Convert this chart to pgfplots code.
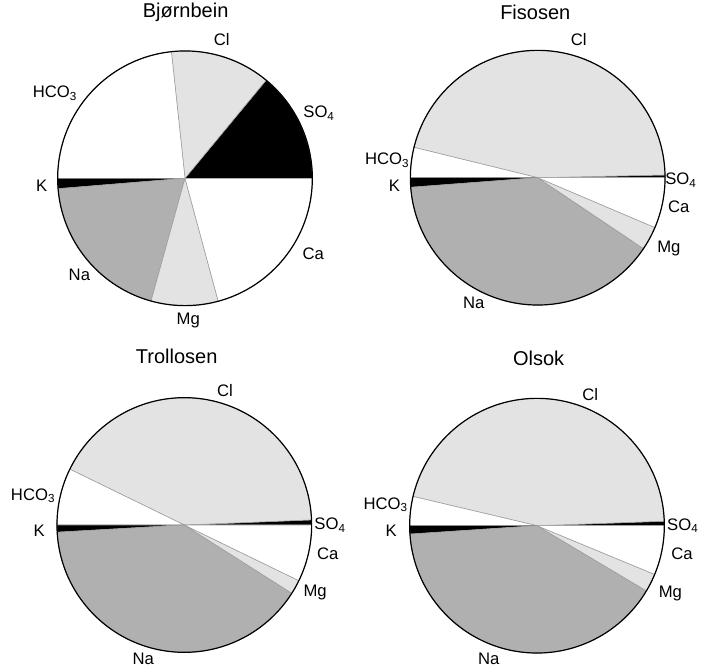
\documentclass[border=0pt]{standalone}
\usepackage{pgfplots}
\pgfplotsset{compat=1.18}
\usepackage{pgfplotstable}
\usepackage{fontspec}
\setmainfont{Liberation Sans}

\definecolor{pielight}{HTML}{E3E3E3}
\definecolor{piemid}{HTML}{B0B0B0}
\definecolor{edgegray}{HTML}{9A9A9A}

\newcommand{\lblfont}{\fontsize{12.5}{14}\selectfont}
\newcommand{\titlefont}{\fontsize{15}{18}\selectfont}
\def\pieR{95.5pt}

\expandafter\def\csname ioncol@SO4\endcsname{black}
\expandafter\def\csname ioncol@Cl\endcsname{pielight}
\expandafter\def\csname ioncol@HCO3\endcsname{white}
\expandafter\def\csname ioncol@K\endcsname{black}
\expandafter\def\csname ioncol@Na\endcsname{piemid}
\expandafter\def\csname ioncol@Mg\endcsname{pielight}
\expandafter\def\csname ioncol@Ca\endcsname{white}

\expandafter\def\csname ionlbl@SO4\endcsname{SO\textsubscript{4}}
\expandafter\def\csname ionlbl@Cl\endcsname{Cl}
\expandafter\def\csname ionlbl@HCO3\endcsname{HCO\textsubscript{3}}
\expandafter\def\csname ionlbl@K\endcsname{K}
\expandafter\def\csname ionlbl@Na\endcsname{Na}
\expandafter\def\csname ionlbl@Mg\endcsname{Mg}
\expandafter\def\csname ionlbl@Ca\endcsname{Ca}

% share of total meq (%), label angle (deg), label distance (radii)
\pgfplotstableread{
ion  val   la    ld
SO4  14.0  25.9  1.17
Cl   12.7  75.1  1.124
HCO3 23.3  146.9 1.22
K    1.3   183.0 1.127
Na   19.4  222.5 1.125
Mg   8.5   271.3 1.12
Ca   20.8  329.5 1.17
}\tblBjornbein

\pgfplotstableread{
ion  val   la    ld
SO4  0.34  359.0 1.125
Cl   45.83 73.4  1.13
HCO3 3.83  173.3 1.19
K    1.2   183.2 1.128
Na   39.4  243.0 1.107
Mg   3.0   331.7 1.17
Ca   6.4   348.4 1.13
}\tblFisosen

\pgfplotstableread{
ion  val   la    ld
SO4  0.64  0.0   1.145
Cl   42.14 73.1  1.10
HCO3 7.22  169.0 1.21
K    0.9   182.2 1.14
Na   40.1  253.0 1.10
Mg   1.8   332.8 1.155
Ca   7.2   348.6 1.15
}\tblTrollosen

\pgfplotstableread{
ion  val   la    ld
SO4  0.56  0.0   1.145
Cl   45.75 67.9  1.11
HCO3 3.69  172.1 1.20
K    1.05  182.0 1.145
Na   40.4  250.1 1.115
Mg   2.3   333.1 1.175
Ca   6.25  349.0 1.16
}\tblOlsok

\newcommand{\drawpie}[1]{%
  \def\cum{0}%
  \pgfplotstablegetrowsof{#1}%
  \pgfmathtruncatemacro\lastrow{\pgfplotsretval-1}%
  \pgfplotsforeachungrouped \i in {0,...,\lastrow}{%
    \pgfplotstablegetelem{\i}{ion}\of{#1}\let\ion\pgfplotsretval
    \pgfplotstablegetelem{\i}{val}\of{#1}\let\val\pgfplotsretval
    \pgfplotstablegetelem{\i}{la}\of{#1}\let\la\pgfplotsretval
    \pgfplotstablegetelem{\i}{ld}\of{#1}\let\ld\pgfplotsretval
    \pgfmathsetmacro\sa{\cum*3.6}%
    \pgfmathsetmacro\cum{\cum+\val}%
    \pgfmathsetmacro\sb{\cum*3.6}%
    \pgfmathsetmacro\sx{cos(\sa)}%
    \pgfmathsetmacro\sy{sin(\sa)}%
    \pgfmathsetmacro\lx{\ld*cos(\la)}%
    \pgfmathsetmacro\ly{\ld*sin(\la)}%
    \edef\cmd{\noexpand\fill[fill=\csname ioncol@\ion\endcsname, draw=edgegray, line width=0.4pt] (axis cs:0,0) -- (axis cs:\sx,\sy) arc[start angle=\sa, end angle=\sb, radius=\pieR] -- cycle;
      \noexpand\node[font=\noexpand\lblfont, inner sep=0pt] at (axis cs:\lx,\ly) {\noexpand\csname ionlbl@\ion\endcsname};}%
    \cmd
  }%
  \draw[line width=0.9pt] (axis cs:0,0) circle[radius=\pieR];
}

\pgfplotsset{piestyle/.style={hide axis, clip=false, x=95.5pt, y=95.5pt,
  xmin=-1.25, xmax=1.25, ymin=-1.25, ymax=1.25, anchor=center,
  title style={anchor=center, font=\titlefont, inner sep=0pt}}}

\begin{document}
\begin{tikzpicture}
\path[use as bounding box] (0pt,0pt) rectangle (527.25pt,501pt);
\begin{axis}[piestyle, at={(138.75pt,367.28pt)}, title={Bjørnbein}, title style={at={(0.502,0.997)}}]
\drawpie{\tblBjornbein}
\end{axis}
\begin{axis}[piestyle, at={(403.28pt,367.73pt)}, title={Fisosen}, title style={at={(0.4924,0.9956)}}]
\drawpie{\tblFisosen}
\end{axis}
\begin{axis}[piestyle, at={(138.23pt,107.25pt)}, title={Trollosen}, title style={at={(0.476,1.004)}}]
\drawpie{\tblTrollosen}
\end{axis}
\begin{axis}[piestyle, at={(402.75pt,106.73pt)}, title={Olsok}, title style={at={(0.505,1.0008)}}]
\drawpie{\tblOlsok}
\end{axis}
\end{tikzpicture}
\end{document}
